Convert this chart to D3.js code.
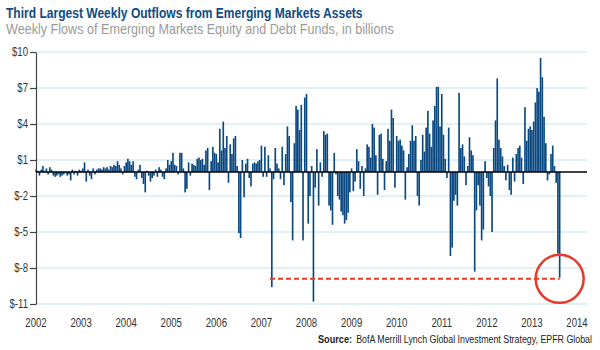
<!DOCTYPE html>
<html>
<head>
<meta charset="utf-8">
<script src="https://cdn.jsdelivr.net/npm/d3@7"></script>
<style>
  html, body { margin: 0; padding: 0; background: #fff; }
  #chart { width: 600px; height: 350px; }
  text { font-family: "Liberation Sans", Arial, sans-serif; }
</style>
</head>
<body>
<div id="chart"></div>
<script>
// Fluxos semanais (bilhões de US$), ~2 semanas por valor
const flows2002 = [0.2, 0.1, -0.3, 0.2, 0.5, 0.1, 0.3, -0.2, 0.4, 0.2, -0.3, -0.4, -0.3, -0.2, -0.4, -0.3, -0.2, -0.1, -0.3, -0.2, -0.7, 0.2, -0.2, 0.1, -0.3, 0.2];
const flows2003 = [0.1, 0.3, 0.8, -0.8, 0.2, -0.3, -0.6, 0.3, -0.2, 0.2, 0.3, 0.3, 0.2, 0.4, 0.3, 0.4, 0.2, 0.5, 0.4, 0.6, 0.5, 0.9, 0.6, 0.3, -0.2, 0.5];
const flows2004 = [0.8, 1.1, 0.9, 0.6, 0.9, -0.4, -0.6, 0.2, 0.6, -0.5, -1.0, -1.7, 0.1, -0.3, -0.8, -0.5, -0.3, 0.2, -0.4, 0.4, 0.2, -0.4, -0.6, 0.3, 1.0, 0.6];
const flows2005 = [0.9, 1.6, 0.6, 0.5, -0.2, 1.6, 1.6, 0.3, -1.7, -1.4, 0.8, -0.3, 0.7, 0.6, 0.5, 1.1, 1.2, 1.0, 1.1, 0.6, 1.8, 2.0, -1.5, 0.9, 2.1, 1.6];
const flows2006 = [1.5, 0.8, 3.6, 1.8, 4.2, 2.0, 3.0, -0.9, 2.3, 1.5, 2.8, 3.0, 0.5, -5.1, -5.5, 1.0, -2.1, 0.7, 1.1, -0.5, -1.2, 0.7, 0.8, 0.7, 0.9, 1.0];
const flows2007 = [2.2, -0.4, 2.1, -0.4, 1.4, 0.3, -9.6, -0.6, 2.0, 0.7, 0.3, -0.6, 2.1, -1.1, 1.5, 3.8, 3.0, -2.5, -5.7, 2.4, 5.5, 5.2, 3.5, 5.6, -5.7, 6.2];
const flows2008 = [6.5, -4.3, -2.0, 0.5, -10.8, -1.3, 1.9, -2.8, 0.8, -0.4, 3.4, 3.1, 3.2, -2.8, -3.2, -4.4, 1.6, -0.2, -2.0, -2.3, -3.3, -3.6, -4.3, -4.0, -3.4, -1.7];
const flows2009 = [0.3, -1.6, -0.8, 1.9, 0.9, -1.4, 0.5, -2.0, 0.3, 2.3, 2.1, 1.2, 4.0, 3.7, 1.4, -1.9, 3.1, 3.2, 1.1, -1.5, 0.9, 3.6, 2.6, 5.2, 4.5, -1.3];
const flows2010 = [3.0, 2.6, 2.7, 2.2, 1.8, -2.3, 0.4, 1.5, 2.6, 3.9, 2.6, 3.0, -2.0, -2.8, 1.0, 3.1, 1.7, 3.7, 5.1, 3.2, 2.1, 4.3, 5.5, 7.1, 7.1, 3.8];
const flows2011 = [6.5, 3.1, 1.1, -0.5, 3.7, -7.0, -6.3, -2.4, -1.9, -2.8, 6.6, 2.0, 2.3, 1.3, -1.1, 0.5, 2.9, 1.8, 1.4, -8.3, -3.2, -1.1, -2.8, -5.7, -4.8, 0.9];
const flows2012 = [-0.5, -1.2, -2.0, -5.0, 2.0, 4.3, 7.8, 2.7, 2.0, 1.3, 0.5, -0.7, 0.6, -1.5, -1.9, 1.2, -0.8, 1.5, 2.0, 2.2, 1.2, -1.0, 5.4, 2.6, 3.6, 3.8];
const flows2013 = [3.5, 4.2, 5.8, 7.0, 6.7, 9.5, 7.9, 4.6, 2.4, -0.7, -0.2, 1.5, 2.2, 0.5, -0.9, -6.8, -8.8];

const years = [2002, 2003, 2004, 2005, 2006, 2007, 2008, 2009, 2010, 2011, 2012, 2013];
const flowsByYear = [flows2002, flows2003, flows2004, flows2005, flows2006, flows2007, flows2008, flows2009, flows2010, flows2011, flows2012, flows2013];
const pointsPerYear = 26;

const xTicks = [2002, 2003, 2004, 2005, 2006, 2007, 2008, 2009, 2010, 2011, 2012, 2013, 2014];
const yTicks = [10, 7, 4, 1, -2, -5, -8, -11];

// Linha de referência (saída de fev/2007 até a última semana)
const refFlow = -8.9;
const refStart = 2007.19;

const title = "Third Largest Weekly Outflows from Emerging Markets Assets";
const subtitle = "Weekly Flows of Emerging Markets Equity and Debt Funds, in billions";
const sourceLabel = "Source:";
const sourceText = "BofA Merrill Lynch Global Investment Strategy, EPFR Global";

const dados = [];
years.forEach((ano, k) => {
    flowsByYear[k].forEach((v, i) => dados.push({ t: ano + i / pointsPerYear, v: v }));
});

const width = 600, height = 350;
const margins = { top: 52, right: 13, bottom: 46, left: 36 };
const estreito = 0.8; // fonte condensada simulada

const svg = d3.select("#chart").append("svg")
    .attr("width", width)
    .attr("height", height);

// Texto condensado: mede a largura natural e comprime na horizontal
function textoCondensado(x, y, largura, ancora, texto) {
    const t = svg.append("text")
        .attr("text-anchor", ancora)
        .text(texto);
    return {
        sel: t,
        ajustar() {
            const natural = t.node().getComputedTextLength();
            const s = largura / natural;
            t.attr("transform", `translate(${x},${y}) scale(${s},1)`);
            return t;
        }
    };
}

//Escalas
const xScale = d3.scaleLinear()
    .domain([2002, 2014])
    .range([margins.left, 577]);

const yScale = d3.scaleLinear()
    .domain([-11, 10])
    .range([height - margins.bottom, margins.top]);

//Titulos
const tTitulo = textoCondensado(6, 18, 357, "start", title);
tTitulo.sel.attr("font-size", 14).attr("font-weight", "bold").attr("fill", "#104b86");
tTitulo.ajustar();

const tSub = textoCondensado(6, 34, 388, "start", subtitle);
tSub.sel.attr("font-size", 14).attr("fill", "#9b9b9b");
tSub.ajustar();

//Grade
svg.append("g")
    .selectAll("line")
    .data(yTicks)
    .join("line")
    .attr("x1", margins.left)
    .attr("x2", width - margins.right)
    .attr("y1", d => yScale(d))
    .attr("y2", d => yScale(d))
    .attr("stroke", "#bfe3ea")
    .attr("stroke-width", 1);

//Eixo Y
const eixoY = svg.append("g")
    .attr("transform", `translate(${margins.left}, 0)`)
    .call(d3.axisLeft(yScale).tickValues(yTicks).tickSize(6).tickFormat(d => "$" + d).tickSizeOuter(0));

eixoY.select(".domain").attr("stroke", "#444").attr("stroke-width", 1.2);
eixoY.selectAll(".tick line").attr("stroke", "#444").attr("stroke-width", 1.2);
eixoY.selectAll(".tick text")
    .attr("font-family", null)
    .attr("font-size", 12)
    .attr("fill", "#333")
    .attr("x", -8 / estreito)
    .attr("transform", `scale(${estreito},1)`);

//Barras
const passo = xScale(2002 + 1 / pointsPerYear) - xScale(2002);
const larguraBarra = passo * 0.95;

svg.append("g")
    .selectAll("rect")
    .data(dados)
    .join("rect")
    .attr("x", d => xScale(d.t) - larguraBarra / 2)
    .attr("y", d => yScale(Math.max(0, d.v)))
    .attr("width", larguraBarra)
    .attr("height", d => Math.abs(yScale(d.v) - yScale(0)))
    .attr("fill", "#0a4880");

//Linha zero
svg.append("line")
    .attr("x1", margins.left)
    .attr("x2", width - margins.right)
    .attr("y1", yScale(0))
    .attr("y2", yScale(0))
    .attr("stroke", "#000")
    .attr("stroke-width", 1.5);

//Referencia
const ultimo = dados[dados.length - 1];

svg.append("line")
    .attr("x1", xScale(refStart))
    .attr("x2", xScale(ultimo.t))
    .attr("y1", yScale(refFlow))
    .attr("y2", yScale(refFlow))
    .attr("stroke", "#e8392b")
    .attr("stroke-width", 2)
    .attr("stroke-dasharray", "5,3");

svg.append("circle")
    .attr("cx", xScale(ultimo.t))
    .attr("cy", yScale(refFlow))
    .attr("r", 24)
    .attr("fill", "none")
    .attr("stroke", "#e8392b")
    .attr("stroke-width", 2.5);

//Eixo X (apenas rótulos)
svg.append("g")
    .selectAll("text")
    .data(xTicks)
    .join("text")
    .attr("transform", d => `translate(${xScale(d)},327) scale(${estreito},1)`)
    .attr("text-anchor", "middle")
    .attr("font-size", 12)
    .attr("fill", "#333")
    .text(d => d);

//Fonte
const tFonte = textoCondensado(592, 343, 236, "end", sourceText);
tFonte.sel.attr("font-size", 11.5).attr("fill", "#222");
tFonte.ajustar();

const tRotulo = textoCondensado(352, 343, 34, "end", sourceLabel);
tRotulo.sel.attr("font-size", 11.5).attr("font-weight", "bold").attr("fill", "#222");
tRotulo.ajustar();
</script>
</body>
</html>
